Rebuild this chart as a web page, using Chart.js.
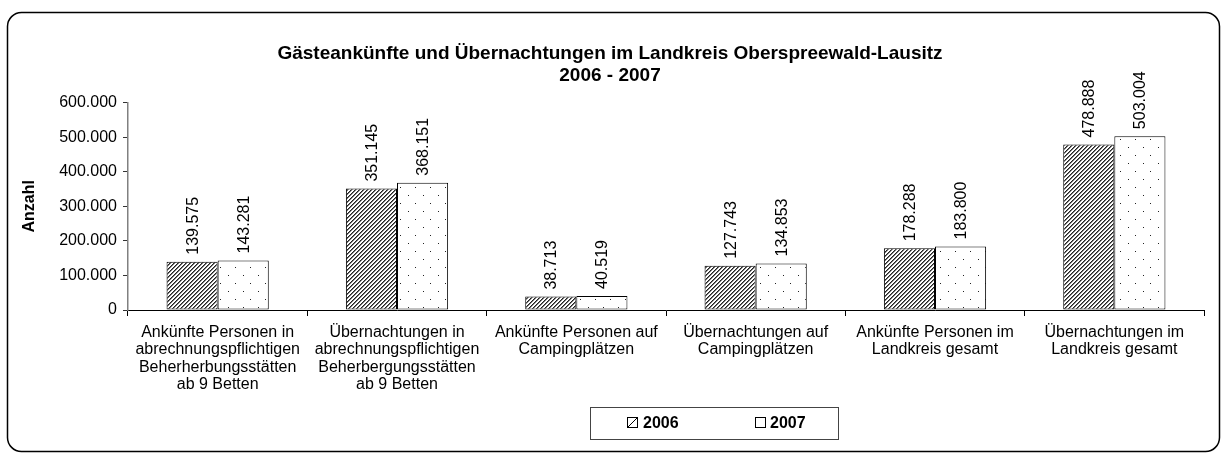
<!DOCTYPE html>
<html>
<head>
<meta charset="utf-8">
<script src="https://cdn.jsdelivr.net/npm/chart.js@4.4.1/dist/chart.umd.min.js"></script>
<style>
  html, body { margin: 0; padding: 0; background: #fff; }
  #wrap { width: 1227px; height: 459px; position: relative; }
</style>
</head>
<body>
<div id="wrap"><canvas id="myChart" width="1227" height="459"></canvas></div>
<script>
// Kategorien (mehrzeilige Achsenbeschriftung)
var categories = [
    ['Ankünfte Personen in', 'abrechnungspflichtigen', 'Beherherbungsstätten', 'ab 9 Betten'],
    ['Übernachtungen in', 'abrechnungspflichtigen', 'Beherbergungsstätten', 'ab 9 Betten'],
    ['Ankünfte Personen auf', 'Campingplätzen'],
    ['Übernachtungen auf', 'Campingplätzen'],
    ['Ankünfte Personen im', 'Landkreis gesamt'],
    ['Übernachtungen im', 'Landkreis gesamt']
];
var seriesNames = ['2006', '2007'];
var values2006 = [139575, 351145, 38713, 127743, 178288, 478888];
var values2007 = [143281, 368151, 40519, 134853, 183800, 503004];
var yTicks = [0, 100000, 200000, 300000, 400000, 500000, 600000];

var FONT = "'Liberation Sans', Arial, sans-serif";

function fmt(v) {
    return String(v).replace(/\B(?=(\d{3})+(?!\d))/g, '.');
}

// Schraffur fuer 2006
function hatchPattern(ctx) {
    var c = document.createElement('canvas');
    c.width = 4; c.height = 4;
    var p = c.getContext('2d');
    p.fillStyle = '#fff';
    p.fillRect(0, 0, 4, 4);
    for (var x = 0; x < 4; x++) {
        for (var y = 0; y < 4; y++) {
            var k = (x + y) % 4;
            if (k === 0) { p.fillStyle = '#222'; p.fillRect(x, y, 1, 1); }
            if (k === 1) { p.fillStyle = '#777'; p.fillRect(x, y, 1, 1); }
        }
    }
    return ctx.createPattern(c, 'repeat');
}

// Punktmuster fuer 2007
function dotPattern(ctx) {
    var c = document.createElement('canvas');
    c.width = 15; c.height = 16;
    var p = c.getContext('2d');
    p.fillStyle = '#fff';
    p.fillRect(0, 0, 15, 16);
    p.fillStyle = '#222';
    p.fillRect(3, 3, 1, 1);
    p.fillRect(10, 11, 1, 1);
    return ctx.createPattern(c, 'repeat');
}

var canvas = document.getElementById('myChart');
var ctx = canvas.getContext('2d');
var hatch = hatchPattern(ctx);
var dots = dotPattern(ctx);

// Werte ueber den Balken (gedreht)
var valueLabels = {
    id: 'valueLabels',
    afterDatasetsDraw: function (chart) {
        var c = chart.ctx;
        chart.data.datasets.forEach(function (ds, i) {
            var meta = chart.getDatasetMeta(i);
            meta.data.forEach(function (bar, j) {
                c.save();
                c.translate(bar.x, bar.y - 7);
                c.rotate(-Math.PI / 2);
                c.font = '16px ' + FONT;
                c.fillStyle = '#000';
                c.textAlign = 'left';
                c.textBaseline = 'middle';
                c.fillText(fmt(ds.data[j]), 0, 1);
                c.restore();
            });
        });
    }
};

// Rahmen und Legende
var frameAndLegend = {
    id: 'frameAndLegend',
    afterDraw: function (chart) {
        var c = chart.ctx;
        c.save();
        c.strokeStyle = '#000';
        c.lineWidth = 1.5;
        c.beginPath();
        c.roundRect(7.5, 12.5, 1212, 439, 14);
        c.stroke();

        // Legendenkasten
        c.lineWidth = 1;
        c.strokeStyle = '#444';
        c.strokeRect(590.5, 407.5, 248, 32);

        var y = 423;
        c.strokeStyle = '#000';
        // 2006
        c.strokeRect(627.5, y - 5.5, 10, 10);
        c.beginPath();
        c.moveTo(628, y + 4);
        c.lineTo(637, y - 5);
        c.stroke();
        // 2007
        c.strokeRect(755.5, y - 5.5, 10, 10);

        c.font = 'bold 16px ' + FONT;
        c.fillStyle = '#000';
        c.textAlign = 'left';
        c.textBaseline = 'middle';
        c.fillText(chart.data.datasets[0].label, 643, y + 1);
        c.fillText(chart.data.datasets[1].label, 770, y + 1);
        c.restore();
    }
};

var myChart = new Chart(ctx, {
    type: 'bar',
    data: {
        labels: categories,
        datasets: [{
            label: seriesNames[0],
            data: values2006,
            backgroundColor: hatch,
            borderColor: '#000',
            borderWidth: 1,
            borderSkipped: false
        }, {
            label: seriesNames[1],
            data: values2007,
            backgroundColor: dots,
            borderColor: '#000',
            borderWidth: 1,
            borderSkipped: false
        }]
    },
    options: {
        responsive: false,
        animation: false,
        events: [],
        datasets: {
            bar: { categoryPercentage: 0.57, barPercentage: 1.0 }
        },
        layout: { padding: { left: 16, right: 23, top: 0, bottom: 0 } },
        plugins: {
            legend: { display: false },
            tooltip: { enabled: false },
            title: {
                display: true,
                text: ['Gästeankünfte und Übernachtungen im Landkreis Oberspreewald-Lausitz', '2006 - 2007'],
                color: '#000',
                font: { family: FONT, size: 19, weight: 'bold', lineHeight: 1.2 },
                padding: { top: 42, bottom: 15 }
            }
        },
        scales: {
            x: {
                offset: true,
                grid: { offset: true, drawOnChartArea: false, tickLength: 6, color: '#000' },
                border: { color: '#000', width: 1 },
                ticks: {
                    color: '#000',
                    font: { family: FONT, size: 16, lineHeight: 1.08 },
                    maxRotation: 0,
                    autoSkip: false,
                    padding: 8
                },
                afterFit: function (scale) { scale.height = 149; }
            },
            y: {
                min: 0,
                max: 600000,
                afterBuildTicks: function (scale) {
                    scale.ticks = yTicks.map(function (v) { return { value: v }; });
                },
                grid: { drawOnChartArea: false, tickLength: 5, color: '#333' },
                border: { color: '#808080', width: 1.5 },
                ticks: {
                    color: '#000',
                    font: { family: FONT, size: 16 },
                    padding: 6,
                    callback: function (v) { return fmt(v); }
                },
                title: {
                    display: true,
                    text: 'Anzahl',
                    color: '#000',
                    font: { family: FONT, size: 16, weight: 'bold' },
                    padding: { top: 4, bottom: 0 }
                },
                afterFit: function (scale) { scale.width = 112; }
            }
        }
    },
    plugins: [valueLabels, frameAndLegend]
});
</script>
</body>
</html>
